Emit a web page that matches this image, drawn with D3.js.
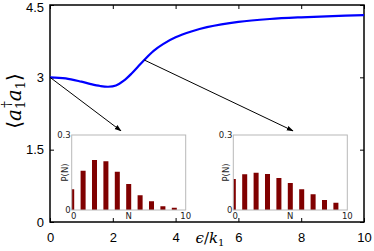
<!DOCTYPE html>
<html>
<head>
<meta charset="utf-8">
<script src="https://cdn.jsdelivr.net/npm/d3@7"></script>
<style>
  html, body { margin: 0; padding: 0; background: #fff; }
  svg { display: block; }
</style>
</head>
<body>
<div id="grafico"></div>
<script>
// curva principal
const epsilon = [0, 0.5, 1, 1.3, 1.6, 1.85, 2.1, 2.35, 2.6, 2.8, 3.0, 3.3, 3.6, 4, 4.5, 5, 6, 7, 8, 9, 10];
const ocupacao = [3.0, 2.98, 2.91, 2.86, 2.82, 2.805, 2.83, 2.93, 3.08, 3.22, 3.36, 3.55, 3.69, 3.83, 3.95, 4.04, 4.15, 4.21, 4.245, 4.27, 4.29];
const ticksX = [0, 2, 4, 6, 8, 10];
const ticksY = [0, 1.5, 3, 4.5];

// distribuicoes P(N)
const nValores = [0, 1, 2, 3, 4, 5, 6, 7, 8, 9];
const pEsquerda = [0.083, 0.157, 0.200, 0.195, 0.153, 0.104, 0.059, 0.035, 0.015, 0.009];
const pDireita = [0.124, 0.143, 0.149, 0.144, 0.128, 0.108, 0.083, 0.063, 0.040, 0.029];

// setas: origem na curva, destino acima dos insets
const setaOrigem = [[0, 3.0], [3.0, 3.36]];
const setaDestino = [[2.26, 1.89], [7.74, 1.89]];

const largura = 374, altura = 251;
const margem = { topo: 5, direita: 10, baixo: 29, esquerda: 50 };
const w = largura - margem.esquerda - margem.direita;
const h = altura - margem.topo - margem.baixo;

const svg = d3.select('#grafico').append('svg')
  .attr('width', largura).attr('height', altura);
const g = svg.append('g').attr('transform', `translate(${margem.esquerda},${margem.topo})`);

const x = d3.scaleLinear().domain([0, 10]).range([0, w]);
const y = d3.scaleLinear().domain([0, 4.5]).range([h, 0]);

// eixos com ticks para dentro
function estilo(sel) {
  sel.select('.domain').remove();
  sel.selectAll('line').attr('stroke', '#000');
  sel.selectAll('text').attr('font-family', 'Liberation Sans, Arial, sans-serif')
    .attr('font-size', 13).attr('fill', '#000');
}
g.append('g').attr('transform', `translate(0,${h})`)
  .call(d3.axisBottom(x).tickValues(ticksX).tickSize(-4).tickPadding(11).tickFormat(d3.format('d')))
  .call(estilo);
g.append('g')
  .call(d3.axisTop(x).tickValues(ticksX).tickSize(-4).tickFormat(''))
  .call(estilo);
const eixoY = g.append('g')
  .call(d3.axisLeft(y).tickValues(ticksY).tickSize(-4).tickPadding(6).tickFormat(d => d === 0 ? '0' : d3.format('.1f')(d).replace('.0', '')))
  .call(estilo);
// o 4.5 fica colado na borda superior
eixoY.selectAll('.tick text').filter(d => d === 4.5).attr('dy', '0.5em');
g.append('g').attr('transform', `translate(${w},0)`)
  .call(d3.axisRight(y).tickValues(ticksY).tickSize(-4).tickFormat(''))
  .call(estilo);

g.append('rect').attr('width', w).attr('height', h)
  .attr('fill', 'none').attr('stroke', '#000').attr('stroke-width', 1.5);

// curva
const linha = d3.line().x((d, i) => x(epsilon[i])).y(d => y(d)).curve(d3.curveCatmullRom.alpha(0.5));
g.append('path').datum(ocupacao).attr('d', linha)
  .attr('fill', 'none').attr('stroke', '#0000ff').attr('stroke-width', 2.2);

// setas
svg.append('defs').append('marker')
  .attr('id', 'ponta').attr('viewBox', '0 0 10 10').attr('refX', 9).attr('refY', 5)
  .attr('markerWidth', 7).attr('markerHeight', 7).attr('orient', 'auto')
  .append('path').attr('d', 'M0,1.5 L10,5 L0,8.5 Z').attr('fill', '#000');
setaOrigem.forEach((o, i) => {
  g.append('line')
    .attr('x1', x(o[0])).attr('y1', y(o[1]))
    .attr('x2', x(setaDestino[i][0])).attr('y2', y(setaDestino[i][1]))
    .attr('stroke', '#000').attr('stroke-width', 1)
    .attr('marker-end', 'url(#ponta)');
});

// insets
function inset(px, py, valores) {
  const iw = 114, ih = 75;
  const ig = svg.append('g').attr('transform', `translate(${px},${py})`);
  const ix = d3.scaleLinear().domain([0, 10]).range([0, iw]);
  const iy = d3.scaleLinear().domain([0, 0.3]).range([ih, 0]);
  ig.append('rect').attr('width', iw).attr('height', ih).attr('fill', '#fff');
  ig.append('clipPath').attr('id', 'clip' + Math.round(px)).append('rect').attr('width', iw).attr('height', ih);
  ig.append('g').attr('clip-path', `url(#clip${Math.round(px)})`)
    .selectAll('rect').data(valores).enter().append('rect')
    .attr('x', (d, i) => ix(nValores[i] - 0.22))
    .attr('width', ix(0.44) - ix(0))
    .attr('y', d => iy(d))
    .attr('height', d => ih - iy(d))
    .attr('fill', '#800000');
  ig.append('rect').attr('width', iw).attr('height', ih)
    .attr('fill', 'none').attr('stroke', '#b8b8b8').attr('stroke-width', 1);
  const fonte = { 'font-family': 'DejaVu Sans, sans-serif', 'font-size': 8.5, fill: '#222' };
  const texto = (tx, ty, t, anc) => {
    const el = ig.append('text').attr('x', tx).attr('y', ty).attr('text-anchor', anc).text(t);
    Object.entries(fonte).forEach(([k, v]) => el.attr(k, v));
    return el;
  };
  texto(-1, iy(0.3) + 3, '0.3', 'end');
  texto(-1, ih + 3, '0', 'end');
  texto(ix(0) + 2, ih + 9, '0', 'middle');
  texto(ix(5), ih + 9, 'N', 'middle');
  texto(ix(10), ih + 9, '10', 'middle');
  texto(0, 0, 'P(N)', 'middle').attr('transform', `translate(-4,${ih / 2}) rotate(-90)`);
}
inset(margem.esquerda + 21.7, 135, pEsquerda);
inset(margem.esquerda + 183.3, 135, pDireita);

// rotulos dos eixos
svg.append('text')
  .attr('x', 210).attr('y', 243).attr('text-anchor', 'middle')
  .attr('font-family', 'DejaVu Serif, serif').attr('font-size', 15)
  .html('<tspan font-style="italic">ϵ</tspan>/<tspan font-style="italic">k</tspan><tspan font-size="10" dy="3">1</tspan>');

svg.append('text')
  .attr('transform', 'translate(21,101) rotate(-90)')
  .attr('text-anchor', 'middle')
  .attr('font-family', 'DejaVu Serif, serif').attr('font-size', 20)
  .html('⟨<tspan font-style="italic">a</tspan><tspan font-size="13" dy="4">1</tspan><tspan font-size="13" dx="-7" dy="-14">†</tspan><tspan font-style="italic" dy="10">a</tspan><tspan font-size="13" dy="4">1</tspan><tspan dy="-4">⟩</tspan>');
</script>
</body>
</html>
